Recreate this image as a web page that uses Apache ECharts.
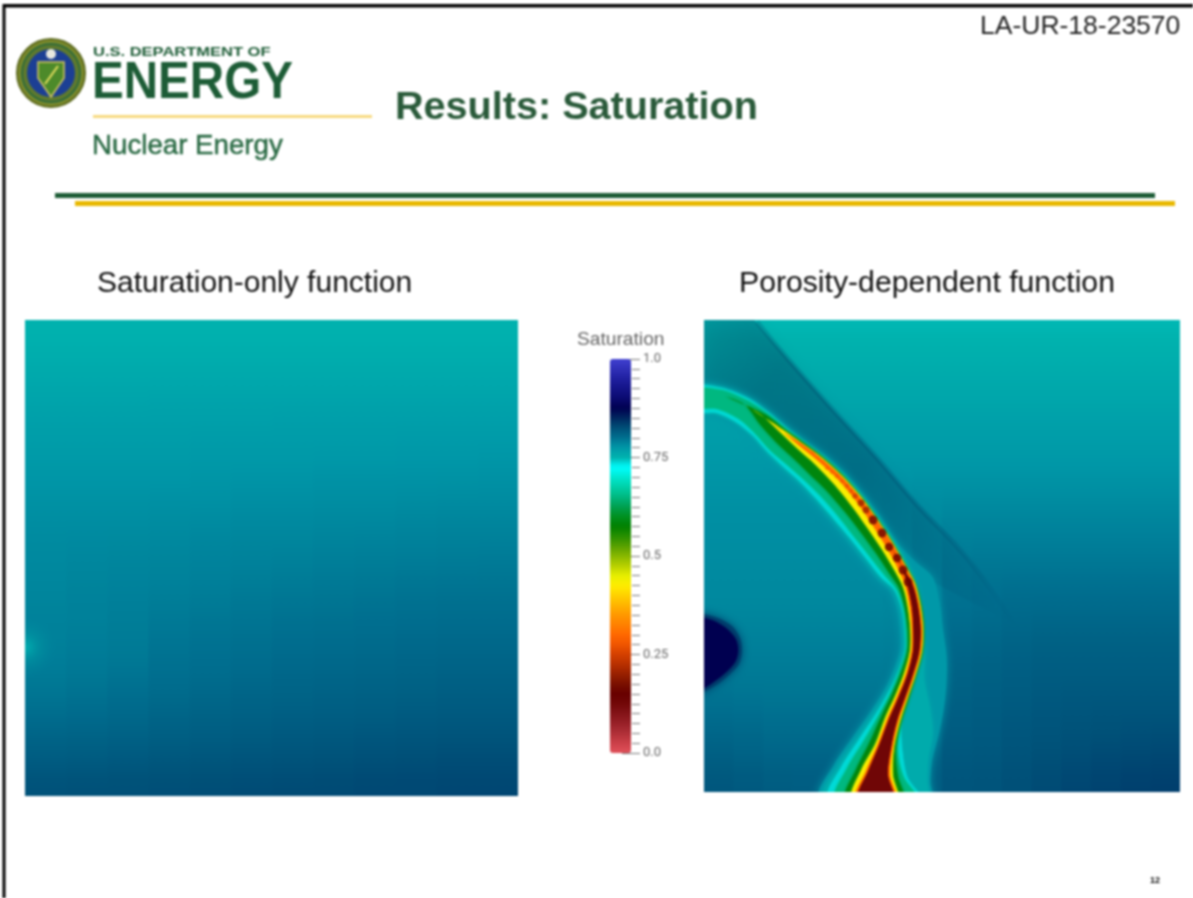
<!DOCTYPE html>
<html><head><meta charset="utf-8">
<style>html,body{margin:0;padding:0;background:#fff}#c{width:1193px;height:898px;filter:blur(0.8px)}</style>
<script src="https://cdn.jsdelivr.net/npm/echarts@6/dist/echarts.min.js"></script>
</head><body><div id="c"></div>
<script>
// Colour scale, one colour per 0.025 from 0.0 to 1.0
const saturationColors = ['#e0505a','#cc4048','#b03038','#982028','#841418','#720808','#680000','#7a1000','#982000','#b83000','#d44000','#f05500','#ff6800','#ff8000','#ff9800','#ffb400','#ffd000','#ffee00','#e6ee00','#b8d000','#88b800','#58a000','#289000','#008000','#009020','#00a050','#00b880','#00d0a8','#00e8d0','#00ffff','#00b2ae','#0098a8','#007090','#005078','#002860','#000050','#0a0a70','#141488','#2020a0','#3030b8','#4040d0'];
const barTickLabels = {0:'0.0',0.25:'0.25',0.5:'0.5',0.75:'0.75',1:'1.0'};

// Left panel: saturation, top row first, 12 columns left to right
const leftRows = [
[.750,.750,.750,.750,.750,.750,.750,.750,.750,.750,.750,.750],
[.754,.754,.754,.754,.754,.754,.754,.754,.754,.754,.754,.754],
[.758,.758,.758,.758,.758,.758,.758,.758,.758,.758,.758,.758],
[.762,.762,.762,.762,.762,.762,.762,.762,.762,.762,.762,.762],
[.765,.765,.765,.766,.766,.766,.766,.766,.766,.766,.766,.766],
[.769,.769,.769,.769,.769,.769,.770,.770,.770,.770,.770,.770],
[.772,.772,.772,.772,.773,.773,.773,.773,.773,.774,.774,.774],
[.775,.775,.775,.775,.776,.776,.776,.777,.777,.777,.777,.778],
[.778,.778,.778,.778,.778,.779,.779,.780,.780,.780,.781,.781],
[.780,.780,.780,.781,.781,.782,.782,.783,.783,.784,.784,.784],
[.782,.782,.783,.783,.784,.785,.785,.786,.786,.787,.788,.788],
[.784,.785,.785,.786,.787,.788,.788,.789,.790,.790,.791,.791],
[.785,.786,.787,.788,.789,.790,.791,.792,.793,.794,.794,.795],
[.786,.788,.789,.790,.791,.793,.794,.795,.796,.797,.798,.798],
[.788,.789,.791,.793,.794,.796,.797,.798,.799,.800,.801,.801],
[.789,.790,.792,.795,.797,.798,.800,.801,.802,.803,.804,.804],
[.790,.792,.793,.797,.799,.801,.803,.804,.805,.806,.807,.807],
[.792,.794,.796,.800,.802,.804,.806,.807,.808,.809,.810,.810],
[.795,.797,.800,.803,.805,.807,.809,.810,.811,.812,.813,.813],
[.800,.802,.804,.807,.809,.811,.812,.813,.814,.815,.816,.816],
[.806,.807,.809,.811,.813,.814,.816,.817,.818,.819,.820,.820],
[.812,.813,.814,.816,.817,.819,.820,.821,.822,.823,.824,.824],
[.818,.819,.820,.821,.822,.823,.824,.825,.826,.827,.828,.828],
[.824,.825,.825,.826,.827,.828,.829,.829,.830,.830,.831,.831]];
// Lighter spot on the left edge of the left panel (column, row)
const spotX = [0];
const spotY = [16];

// Right panel background: saturation, top row first, 16 columns left to right
const rightRows = [
[.748,.748,.748,.748,.748,.748,.748,.748,.748,.748,.748,.748,.748,.748,.748,.748],
[.752,.752,.752,.752,.752,.752,.752,.752,.752,.752,.752,.752,.752,.752,.752,.752],
[.756,.756,.756,.756,.756,.756,.756,.756,.756,.756,.756,.756,.756,.756,.756,.756],
[.760,.760,.760,.760,.760,.760,.760,.760,.760,.760,.760,.760,.760,.760,.760,.760],
[.764,.764,.764,.764,.764,.764,.764,.764,.764,.764,.764,.764,.764,.764,.764,.764],
[.768,.768,.768,.768,.768,.768,.768,.768,.768,.768,.768,.768,.768,.768,.768,.768],
[.772,.772,.772,.772,.772,.772,.772,.772,.772,.772,.772,.772,.772,.772,.772,.772],
[.776,.776,.776,.776,.776,.776,.776,.776,.776,.776,.776,.776,.776,.776,.776,.776],
[.778,.778,.778,.778,.778,.778,.779,.780,.780,.780,.780,.780,.780,.780,.780,.780],
[.780,.780,.780,.780,.780,.780,.781,.783,.784,.784,.784,.784,.784,.784,.784,.784],
[.781,.781,.781,.781,.781,.781,.782,.785,.788,.788,.788,.788,.788,.788,.788,.788],
[.782,.782,.782,.782,.782,.782,.783,.787,.791,.792,.792,.792,.792,.792,.792,.792],
[.783,.783,.783,.783,.783,.783,.784,.789,.794,.796,.796,.796,.796,.796,.796,.796],
[.784,.784,.784,.784,.784,.784,.785,.791,.797,.799,.800,.800,.800,.800,.800,.800],
[.785,.785,.785,.785,.785,.785,.786,.793,.800,.802,.804,.804,.804,.804,.804,.804],
[.787,.787,.787,.787,.787,.787,.788,.796,.803,.805,.807,.808,.808,.808,.808,.808],
[.790,.790,.790,.790,.790,.790,.791,.799,.806,.808,.810,.812,.812,.812,.812,.812],
[.792,.792,.792,.792,.792,.792,.793,.802,.809,.811,.813,.815,.815,.815,.815,.815],
[.796,.795,.795,.795,.795,.795,.796,.805,.811,.813,.815,.817,.817,.817,.817,.817],
[.800,.799,.798,.798,.798,.798,.799,.807,.813,.815,.817,.819,.820,.820,.820,.820],
[.805,.804,.802,.802,.802,.802,.803,.809,.815,.816,.819,.821,.822,.823,.824,.824],
[.810,.808,.806,.806,.806,.806,.806,.811,.817,.818,.821,.823,.825,.826,.827,.828],
[.815,.813,.811,.811,.811,.811,.811,.813,.819,.820,.823,.826,.828,.830,.831,.832],
[.820,.818,.816,.815,.815,.815,.815,.816,.821,.822,.825,.828,.831,.833,.835,.836]];

// Path of the low-saturation front in the right panel (panel units, y measured downward)
const frontX = [-8,16,41,61,79,96,116,136,156,171,186,198,206,211,213,212,206,198,189,181,174,172];
const frontY = [74,75,85,98,112,124,139,157,180,201,225,247,265,287,310,332,355,377,400,427,453,480];

// Contour levels of the front and their distance from the path on each side
const haloLevel = 0.775;
const haloOuter = [9,9,9,8,7,6,6,6,6,6,7,14,24,25,26,31,38,44,48,49,53,56];
const haloInner = [22,23,24,26,30,33,35,37,37,35,32,28,21,18,17,16,17,19,24,34,45,56];
const tealLevel = 0.757;
const tealOuter = [8,8,8,7,6,5,5,5,5,5,6,7,7,7,7,9,15,30,42,45,50,52];
const tealInner = [19,20,21,23,27,30,32,34,34,32,29,25,18,15,14,13,14,16,21,30,41,52];
const cyanLevel = 0.737;
const cyanOuter = [7,7,7,6,5,4,4,4,4,4,5,5,5,5,5,5,5,7,9,18,30,48];
const cyanInner = [17,18,19,21,25,28,30,32,32,30,27,23,16,13,12,11,12,14,18,27,37,47];
const mintLevel = 0.65;
const mintOuter = [5,5,5,5,4,3.5,3.5,3.5,3.5,3.5,4,4.5,4.5,4.5,4.5,4.5,4.5,6,8,13,26,44];
const mintInner = [13,14,15,18,22,24,26,27,27,26,23,19,14,11.5,11,10,11,12,15,22,31,40];
const greenLevel = 0.585;
const greenOuter = [0,0,0,3,3,3,3,3,3,3,3.5,4,5.5,6.5,7,6.5,6,7,8.5,11,20,28];
const greenInner = [0,0,0,8,12,15,18,19,19,18,16,14,11,10,9,8.5,9,10,12,16,22,30];
const yellowLevel = 0.43;
const yellowOuter = [0,0,0,0,1.5,1.5,2,2,2.5,2.5,3,3.5,5,5.5,6,5.5,5,5.5,7,9,15,22];
const yellowInner = [0,0,0,0,2,5,7,9,10,10,9,8,7,7,6.5,6,6,6.5,8,10,17,24];
const orangeLevel = 0.30;
const orangeOuter = [0,0,0,0,0,.8,1,1,1.5,2,2.5,3,4,4.5,5,4.5,4,4.5,5.5,7.5,12,20];
const orangeInner = [0,0,0,0,0,1.5,2.5,3,3.5,4,4,4,4.5,5,5,4.5,4,4.5,5.5,7.5,12,20];
const redLevel = 0.13;
const redOuter = [0,0,0,0,0,0,0,0,0,0,0,0,2.5,3,3.5,3,2.5,3,4,6,10,18];
const redInner = [0,0,0,0,0,0,0,0,0,0,0,0,2.5,3,3.5,3,2.5,3,4,6,10,18];

// Beads along the front
const beadX = [109,114,119,123,128,133,138,143,147,151,157,162,169,178,185,193,199,204];
const beadY = [133,138,142,148,152,156,161,166,171,176,183,190,200,213,227,238,250,262];
const beadV = [.30,.30,.30,.29,.29,.28,.28,.27,.27,.24,.20,.20,.14,.14,.15,.15,.14,.14];

// Dark diagonal streak above the front and the region between them
const streakX = [53,83,129,173,213,263,311];
const streakY = [2,38,90,138,185,238,305];
const wedgeX = [0,50,83,129,173,213,263,311,225,203,193,176,156,136,116,96,76,56,36,16,0];
const wedgeY = [0,0,38,90,138,185,238,305,260,245,222,195,172,152,135,120,105,88,75,67,65];

// Very saturated pocket on the left edge
const pocketLevel = 0.875;
const pocketX = [-5,0,12,24,32,34,31,22,12,0,-5];
const pocketY = [298,298,302,310,320,331,342,352,360,368,370];
const pocketEdgeLevel = 0.835;
const pocketEdgeX = [-5,0,14,28,36,38,35,25,14,0,-5];
const pocketEdgeY = [294,294,298,306,318,331,344,355,364,372,374];

const GREEN='#1d5c36', FONT='"Liberation Sans",Arial,sans-serif';
function colorAt(v){
  const t=v*40,i=Math.min(39,Math.floor(t)),f=t-i;
  const p=c=>[1,3,5].map(k=>parseInt(c.substr(k,2),16));
  const a=p(saturationColors[i]),b=p(saturationColors[i+1]);
  return 'rgb('+a.map((x,k)=>Math.round(x+(b[k]-x)*f)).join(',')+')';
}
function heat(rows){const o=[];rows.forEach((r,y)=>r.forEach((v,x)=>o.push([x,y,v])));return o;}
function zipXY(X,Y){return X.map((x,i)=>[x,Y[i]]);}
function band(outer,inner){
  const up=[],down=[];
  frontX.forEach((x,i)=>{
    const a=Math.max(0,i-1),b=Math.min(frontX.length-1,i+1);
    let dx=frontX[b]-frontX[a],dy=frontY[b]-frontY[a];const l=Math.hypot(dx,dy);dx/=l;dy/=l;
    up.push([x+dy*outer[i],frontY[i]-dx*outer[i]]);
    down.push([x-dy*inner[i],frontY[i]+dx*inner[i]]);
  });
  return up.concat(down.reverse());
}
const shapes = [
  {pts:zipXY(pocketEdgeX,pocketEdgeY),v:pocketEdgeLevel,blur:8},
  {pts:zipXY(pocketX,pocketY),v:pocketLevel,blur:3},
  {pts:band(haloOuter,haloInner),v:haloLevel,blur:8},
  {pts:band(tealOuter,tealInner),v:tealLevel,blur:5},
  {pts:band(cyanOuter,cyanInner),v:cyanLevel,blur:2},
  {pts:band(mintOuter,mintInner),v:mintLevel,blur:3},
  {pts:band(greenOuter,greenInner),v:greenLevel,blur:3},
  {pts:band(yellowOuter,yellowInner),v:yellowLevel,blur:2},
  {pts:band(orangeOuter,orangeInner),v:orangeLevel,blur:2},
  {pts:band(redOuter,redInner),v:redLevel,blur:1}
];
function cells(rows){
  return (p,api)=>{
    const x=api.value(0),y=api.value(1),c=api.coord([x,y]),s=api.size([1,1]);
    const top=(rows[Math.max(y-1,0)][x]+rows[y][x])/2, bot=(rows[y][x]+rows[Math.min(y+1,rows.length-1)][x])/2;
    return {type:'rect',shape:{x:c[0]-s[0]/2,y:c[1]-s[1]/2,width:s[0]+1,height:s[1]+1},
      style:{fill:new echarts.graphic.LinearGradient(0,0,0,1,[{offset:0,color:colorAt(top)},{offset:1,color:colorAt(bot)}])}};
  };
}
function text(x,y,t,size,color,weight,extra){
  return Object.assign({type:'text',x:x,y:y,silent:true,style:Object.assign({text:t,fill:color,font:(weight||'normal')+' '+size+'px '+FONT,verticalAlign:'middle',align:'left'},(extra&&extra.style)||{})},extra?{scaleX:extra.scaleX||1}:{});
}
function rect(x,y,w,h,c){return {type:'rect',silent:true,shape:{x:x,y:y,width:w,height:h},style:{fill:c}};}
function circle(x,y,r,c,s,lw){return {type:'circle',silent:true,shape:{cx:x,cy:y,r:r},style:{fill:c,stroke:s||null,lineWidth:lw||0}};}

const chart = echarts.init(document.getElementById('c'),null,{renderer:'canvas'});
chart.setOption({
  animation:false,
  backgroundColor:'#fff',
  grid:[
    {left:25,top:320,width:493,height:476},
    {left:704,top:320,width:476,height:472},
    {left:610,top:359,width:30,height:394}
  ],
  xAxis:[
    {type:'category',gridIndex:0,data:leftRows[0].map((_,i)=>i),show:false},
    {type:'category',gridIndex:1,data:rightRows[0].map((_,i)=>i),show:false},
    {type:'value',gridIndex:1,min:0,max:476,show:false},
    {type:'value',gridIndex:2,min:0,max:1,show:false}
  ],
  yAxis:[
    {type:'category',gridIndex:0,inverse:true,data:leftRows.map((_,i)=>i),show:false},
    {type:'category',gridIndex:1,inverse:true,data:rightRows.map((_,i)=>i),show:false},
    {type:'value',gridIndex:1,inverse:true,min:0,max:472,show:false},
    {type:'value',gridIndex:2,min:0,max:1,interval:.25,position:'right',
      axisLine:{show:false,onZero:false},splitLine:{show:false},
      axisTick:{show:true,inside:true,length:18,lineStyle:{color:'#777',width:1}},
      minorTick:{show:true,splitNumber:10,length:8,lineStyle:{color:'#777',width:1}},
      axisLabel:{show:true,inside:false,margin:3,color:'#666',fontSize:13,fontFamily:'Roboto',formatter:v=>barTickLabels[v]}}
  ],
  visualMap:[{
    type:'continuous',min:0,max:1,dimension:2,seriesIndex:[5],
    calculable:false,realtime:false,left:610,top:359,itemWidth:21,itemHeight:394,padding:0,
    text:null,showLabel:false,inRange:{color:saturationColors}
  }],
  series:[
    {type:'custom',xAxisIndex:0,yAxisIndex:0,clip:true,data:heat(leftRows),encode:{x:0,y:1},renderItem:cells(leftRows),silent:true},
    {type:'custom',xAxisIndex:1,yAxisIndex:1,clip:true,data:heat(rightRows),encode:{x:0,y:1},renderItem:cells(rightRows),silent:true},
    {type:'custom',xAxisIndex:0,yAxisIndex:0,clip:true,z:3,silent:true,data:zipXY(spotX,spotY),encode:{x:0,y:1},
      renderItem:(p,api)=>{const c=api.coord([api.value(0),api.value(1)]),s=api.size([1,1]);
        return {type:'circle',shape:{cx:c[0]-s[0]/2,cy:c[1],r:s[0]*.75},
          style:{fill:new echarts.graphic.RadialGradient(.5,.5,.5,[{offset:0,color:'rgba(0,190,185,.75)'},{offset:.45,color:'rgba(0,170,170,.3)'},{offset:1,color:'rgba(0,140,160,0)'}])}};}},
    {type:'custom',xAxisIndex:2,yAxisIndex:2,clip:true,z:3,silent:true,data:[0],encode:{x:0},
      renderItem:(p,api)=>({type:'polygon',shape:{points:zipXY(wedgeX,wedgeY).map(q=>api.coord(q))},
        style:{shadowBlur:16,shadowColor:'rgba(0,30,70,0.3)',fill:new echarts.graphic.LinearGradient(0,0,1,1,[{offset:0,color:'rgba(0,30,70,0.2)'},{offset:.2,color:'rgba(0,30,70,0.3)'},{offset:.5,color:'rgba(0,30,70,0.28)'},{offset:.72,color:'rgba(0,30,70,0.15)'},{offset:.9,color:'rgba(0,30,70,0.04)'},{offset:1,color:'rgba(0,30,70,0)'}])}})},
    {type:'line',xAxisIndex:2,yAxisIndex:2,z:3,data:zipXY(streakX,streakY),showSymbol:false,smooth:true,silent:true,
      lineStyle:{width:5,color:new echarts.graphic.LinearGradient(0,0,1,1,[{offset:0,color:'rgba(0,45,90,0.2)'},{offset:.7,color:'rgba(0,45,90,0.2)'},{offset:1,color:'rgba(0,45,90,0)'}])}},
    {type:'scatter',xAxisIndex:2,yAxisIndex:2,z:6,data:beadX.map((x,i)=>[x,beadY[i],beadV[i]]),
      symbolSize:d=>(0.40-d[2])*34,silent:true},
    {type:'custom',xAxisIndex:2,yAxisIndex:2,clip:true,z:5,silent:true,data:shapes.map((_,i)=>i),encode:{x:0},
      renderItem:(p,api)=>{const s=shapes[p.dataIndex],f=colorAt(s.v);return {type:'polygon',shape:{points:s.pts.map(q=>api.coord(q)),smooth:.3},style:{fill:f,shadowBlur:s.blur,shadowColor:f}};}}
  ],
  graphic:{elements:[
    rect(3,4,1190,3.5,'#000'), rect(2.5,4,3,894,'#000'),
    circle(51,73,34,'#7c8a2c','#5d6a1e',2), circle(51,73,29,'#5f7a2e','#2f6a3a',2), circle(51,73,24,'#1c3f94'),
    {type:'polygon',silent:true,shape:{points:[[38,62],[64,62],[64,78],[51,97],[38,78]]},style:{fill:'#4d8a2a',stroke:'#d8c860',lineWidth:1.5}},
    {type:'line',silent:true,shape:{x1:45,y1:84,x2:58,y2:66},style:{stroke:'#e8e060',lineWidth:2}},
    circle(51,54,5,'#e8e8e0'),
    text(93,52.5,'U.S. DEPARTMENT OF',12.5,GREEN,'bold',{scaleX:1.32}),
    text(92,84,'ENERGY',52,GREEN,'bold',{scaleX:.915}),
    rect(93,115,279,3,'#f7da80'),
    text(92,146,'Nuclear Energy',27.7,'#2a6a44','normal',{style:{stroke:'#2a6a44',lineWidth:.5}}),
    text(395,108,'Results: Saturation',39.6,'#2a5a3a','bold'),
    rect(55,193,1100,5,GREEN), rect(75,201,1100,5,'#e8b800'),
    text(980,27,'LA-UR-18-23570',26.5,'#222'),
    text(97,284,'Saturation-only function',30,'#111'),
    text(739,284,'Porosity-dependent function',30.2,'#111'),
    text(577,340,'Saturation',19.2,'#666'),
    text(1150,881,'12',9,'#111','bold')
  ]}
});
</script></body></html>
